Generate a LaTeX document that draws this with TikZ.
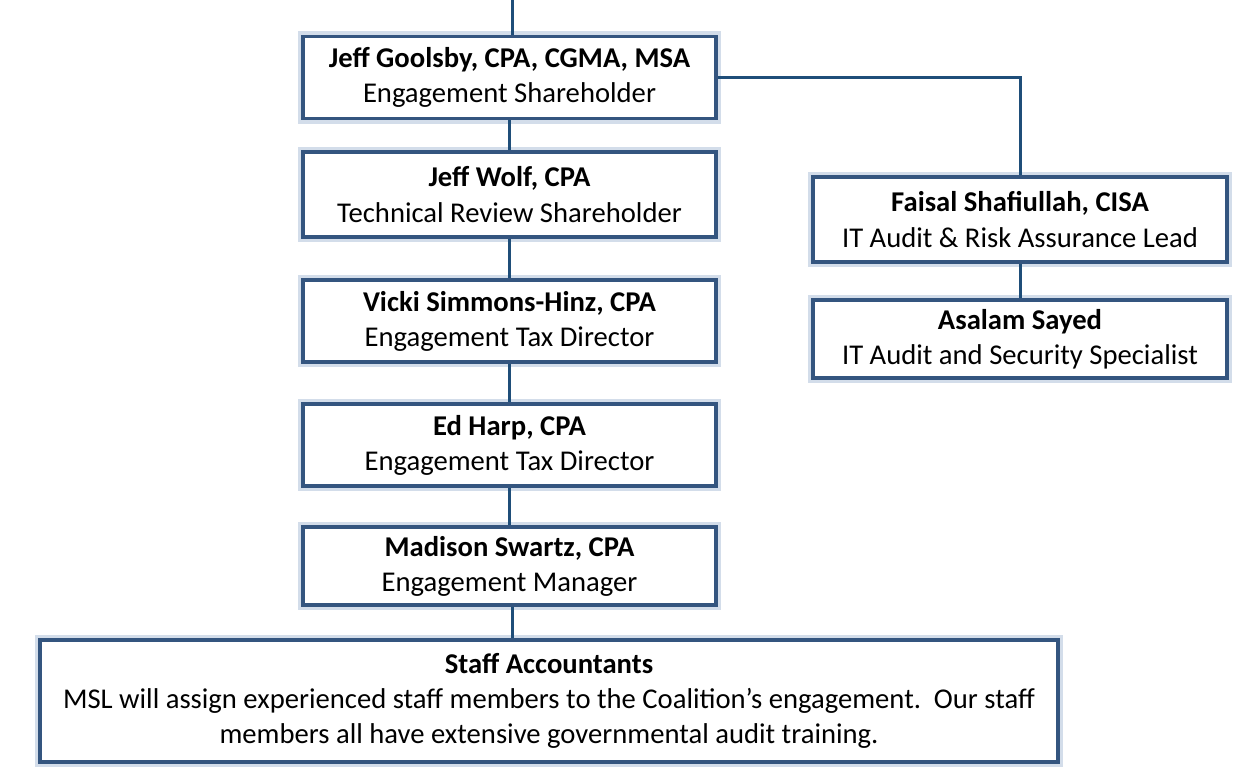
\documentclass[tikz,border=0pt]{standalone}
\usepackage{fontspec}
\setmainfont{Carlito}
\usetikzlibrary{positioning}
\definecolor{boxline}{HTML}{34557F}
\definecolor{wire}{HTML}{1F4E79}
\definecolor{glow}{HTML}{D3DDEA}
\tikzset{every node/.style={font=\fontsize{16.3}{20}\selectfont}}
\tikzset{role/.style = {rectangle,draw=boxline,line width=1.8pt,fill=white,align=center,
    minimum width=8.26cm,minimum height=1.64cm,inner sep=0pt,
    preaction={draw=glow,line width=6pt}}}
\tikzset{link/.style = {draw=wire,line width=1.7pt}}

\begin{document}
\begin{tikzpicture}
  \useasboundingbox (0,0) rectangle (24.68,-15.32);
      \coordinate (top) at (10.24,0);
      \node[role] (g) at (10.19,-1.55) {\textbf{Jeff Goolsby, CPA, CGMA, MSA}\\Engagement Shareholder};
      \node[role,minimum height=1.7cm] (w) at (10.19,-3.89) {\textbf{Jeff Wolf, CPA}\\Technical Review Shareholder};
      \node[role] (v) at (10.19,-6.42) {\textbf{Vicki Simmons-Hinz, CPA}\\Engagement Tax Director};
      \node[role] (e) at (10.19,-8.9) {\textbf{Ed Harp, CPA}\\Engagement Tax Director};
      \node[role,minimum height=1.56cm] (m) at (10.19,-11.32) {\textbf{Madison Swartz, CPA}\\Engagement Manager};
      \node[role,minimum width=20.36cm,minimum height=2.44cm] (s) at (10.98,-14.02)
        {\textbf{Staff Accountants}\\MSL will assign experienced staff members to the Coalition’s engagement.\ \ Our staff\\members all have extensive governmental audit training.};
      \node[role,minimum width=8.28cm,minimum height=1.7cm] (f) at (20.4,-4.39) {\textbf{Faisal Shafiullah, CISA}\\IT Audit \& Risk Assurance Lead};
      \node[role,minimum width=8.28cm,minimum height=1.56cm] (a) at (20.4,-6.78) {\textbf{Asalam Sayed}\\IT Audit and Security Specialist};

 \draw[link] (top) -- (top |- g.north);
 \foreach \a/\b in {g/w,w/v,v/e,e/m,f/a}
   \draw[link] (\a) -- (\b);
 \draw[link] (top |- m.south) -- (top |- s.north);
 \draw[link] (g.east) -| (f.north);

\end{tikzpicture}
\end{document}
